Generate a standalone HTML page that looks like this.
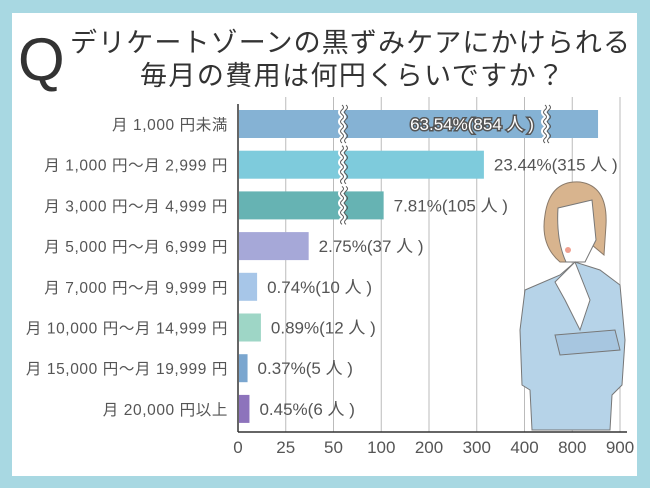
<!DOCTYPE html>
<html><head><meta charset="utf-8"><style>
html,body{margin:0;padding:0}
body{width:650px;height:488px;background:#a8d8e2;position:relative;overflow:hidden;font-family:"Liberation Sans","Noto Sans CJK JP",sans-serif}
#card{position:absolute;left:12px;top:13px;width:625px;height:463px;background:#fff}
svg{position:absolute;left:0;top:0}
</style></head><body>
<div id="card"></div>
<svg id="chart" width="650" height="488">
<text x="18" y="80" font-size="60" fill="#333" font-family="Liberation Sans, sans-serif">Q</text>
<text x="70" y="52" font-size="27" fill="#333" textLength="560">デリケートゾーンの黒ずみケアにかけられる</text>
<text x="140" y="85" font-size="27" fill="#333" textLength="424">毎月の費用は何円くらいですか？</text>
<g id="grid"></g>
<g id="woman">
<path d="M545 215 Q550 180 580 182 Q608 186 606 225 L604 255 L592 245 L585 262 L560 262 Q540 245 545 215Z" fill="#d8b48e" stroke="#8a7a6a"/>
<path d="M558 208 L592 200 L596 240 L585 262 L566 262 Q556 240 558 208Z" fill="#fff" stroke="#777"/>
<ellipse cx="568" cy="250" rx="3" ry="3" fill="#f0a090"/>
<path d="M525 290 L560 275 L575 262 L600 270 L620 285 L625 340 L622 385 L612 395 L610 430 L532 430 L530 390 L522 385 L520 330Z" fill="#b6d3e8" stroke="#777"/>
<path d="M555 282 L575 262 L590 300 L580 330 L565 300Z" fill="#fff" stroke="#777"/>
<path d="M555 335 L615 330 L620 350 L560 355Z" fill="#a7c6e0" stroke="#777"/>
</g>
<g id="bars"></g>
<g id="labels"></g>
</svg>
<script>
const categories=["月 1,000 円未満","月 1,000 円〜月 2,999 円","月 3,000 円〜月 4,999 円","月 5,000 円〜月 6,999 円","月 7,000 円〜月 9,999 円","月 10,000 円〜月 14,999 円","月 15,000 円〜月 19,999 円","月 20,000 円以上"];
const counts=[854,315,105,37,10,12,5,6];
const percents=["63.54%","23.44%","7.81%","2.75%","0.74%","0.89%","0.37%","0.45%"];
const ticks=[0,25,50,100,200,300,400,800,900];
const colors=["#85b2d4","#7ecbdc","#66b3b3","#a6a8d8","#a7c6e8","#9ed6c6","#7aa6cf","#8d73bc"];
const X0=238,STEP=47.75,Y0=124,ROW=40.7,BH=28,AXY=432;
const NS="http://www.w3.org/2000/svg";
function x(v){for(let i=0;i<ticks.length-1;i++){if(v<=ticks[i+1]){return X0+STEP*(i+(v-ticks[i])/(ticks[i+1]-ticks[i]));}}return X0+STEP*(ticks.length-1);}
function y(i){return Y0+ROW*i;}
function mk(t,a,p){const e=document.createElementNS(NS,t);for(const k in a)e.setAttribute(k,a[k]);p.appendChild(e);return e;}
const grid=document.getElementById('grid'),bars=document.getElementById('bars'),labels=document.getElementById('labels');
ticks.forEach((t,i)=>{
 if(i>0){const l=mk('line',{x1:x(t),x2:x(t),y1:97,y2:AXY,stroke:'#bbb','stroke-width':1},grid);
 
 }
 const tx=mk('text',{x:x(t),y:AXY+21,'font-size':17,fill:'#555','text-anchor':'middle'},grid);tx.textContent=t;
 
 
});
const ax=mk('line',{x1:X0,x2:627,y1:AXY,y2:AXY,stroke:'#333','stroke-width':1.5},grid);


const ay=mk('line',{x1:X0,x2:X0,y1:104,y2:AXY,stroke:'#333','stroke-width':1.5},grid);


function brk(bx,cy,p){let d='M'+bx+' '+(cy-BH/2-5);for(let k=0;k<8;k++){d+=' q'+(k%2?-3:3)+' 2.4 0 '+(BH+10)/8;}
 mk('path',{d:d,fill:'none',stroke:'#fff','stroke-width':5},p);mk('path',{d:d,fill:'none',stroke:'#555','stroke-width':1},p);
 const d2=d.replace('M'+bx,'M'+(bx+4));mk('path',{d:d2,fill:'none',stroke:'#555','stroke-width':1},p);}
counts.forEach((c,i)=>{
 const r=mk('rect',{x:X0+1,y:y(i)-BH/2,width:x(c)-X0-1,height:BH,fill:colors[i]},bars);
 
 
 if(i<3)brk(342,y(i),bars);
 if(i==0)brk(545,y(i),bars);
 const cl=mk('text',{x:228,y:y(i)+6,'font-size':15.5,fill:'#555','text-anchor':'end','letter-spacing':0.6},labels);cl.textContent=categories[i];
 
 
 const txt=percents[i]+'('+c+' 人 )';
 let vl;
 if(i==0){vl=mk('text',{x:472,y:y(i)+6,'font-size':17,fill:'#fff',stroke:'#555','stroke-width':3,'paint-order':'stroke','text-anchor':'middle'},labels);}
 else vl=mk('text',{x:x(c)+10,y:y(i)+6,'font-size':17,fill:'#555'},labels);
 vl.textContent=txt;
 
 
});
</script>
</body></html>
